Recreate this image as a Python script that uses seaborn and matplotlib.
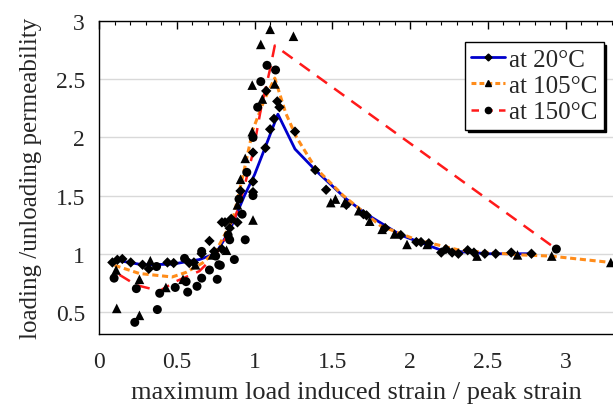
import matplotlib
matplotlib.use("Agg")
import matplotlib.pyplot as plt
from matplotlib.lines import Line2D
from matplotlib.ticker import MultipleLocator
import seaborn as sns
import pandas as pd

# fitted curves
x_20_line = [0.08, 0.13, 0.28, 0.47, 0.645, 0.75, 0.84, 0.935, 1.0, 1.07, 1.15,
             1.26, 1.39, 1.59, 1.72, 1.94, 2.2, 2.5, 2.77]
y_20_line = [0.93, 0.94, 0.905, 0.91, 0.95, 1.0, 1.2, 1.5, 1.68, 1.92, 2.2,
             1.9, 1.72, 1.47, 1.34, 1.16, 1.03, 1.0, 1.0]

x_105_line = [0.1, 0.26, 0.47, 0.56, 0.665, 0.75, 0.86, 0.935, 0.99, 1.065, 1.13,
              1.2, 1.27, 1.39, 1.57, 1.81, 2.04, 2.32, 2.71, 2.9, 3.29]
y_105_line = [0.9, 0.83, 0.8, 0.84, 0.92, 1.02, 1.29, 1.73, 2.07, 2.33, 2.51,
              2.21, 2.0, 1.74, 1.5, 1.24, 1.12, 1.03, 0.99, 0.98, 0.925]

x_150_line = [0.13, 0.24, 0.39, 0.49, 0.645, 0.75, 0.86, 0.935, 0.99, 1.04, 1.1,
              1.13, 2.94]
y_150_line = [0.82, 0.73, 0.68, 0.76, 0.85, 0.99, 1.24, 1.58, 1.87, 2.24, 2.59,
              2.79, 1.04]

# measured points
x_20_pts = [0.086, 0.118, 0.15, 0.204, 0.28, 0.32, 0.44, 0.48, 0.58, 0.61, 0.66,
            0.71, 0.74, 0.79, 0.79, 0.81, 0.84, 0.85, 0.89, 0.91, 0.99, 0.99,
            0.99, 1.07, 1.075, 1.10, 1.125, 1.146, 1.16, 1.26, 1.39, 1.46, 1.59,
            1.70, 1.72, 1.84, 1.94, 2.04, 2.07, 2.12, 2.20, 2.23, 2.27, 2.31,
            2.37, 2.41, 2.48, 2.55, 2.65, 2.78]
y_20_pts = [0.925, 0.948, 0.955, 0.925, 0.905, 0.87, 0.925, 0.92, 0.92, 0.925, 1.0,
            1.11, 1.02, 1.27, 1.04, 1.27, 1.22, 1.30, 1.27, 1.54, 1.62, 1.53,
            1.87, 1.91, 2.40, 2.07, 2.16, 2.31, 2.26, 2.05, 1.72, 1.55, 1.42,
            1.34, 1.33, 1.22, 1.16, 1.10, 1.10, 1.09, 1.01, 1.04, 1.01, 1.0,
            1.03, 1.01, 1.0, 1.0, 1.01, 1.0]

x_105_pts = [0.11, 0.114, 0.26, 0.26, 0.33, 0.43, 0.54, 0.62, 0.73, 0.82, 0.89,
             0.91, 0.94, 0.985, 0.985, 0.99, 1.04, 1.05, 1.10, 1.13, 1.25, 1.49,
             1.52, 1.58, 1.67, 1.74, 1.82, 1.90, 1.98, 2.11, 2.43, 2.69, 2.91,
             3.29]
y_105_pts = [0.86, 0.53, 0.78, 0.47, 0.94, 0.71, 0.78, 0.905, 0.99, 1.03, 1.42,
             1.64, 1.82, 2.45, 2.05, 1.29, 2.80, 2.33, 2.93, 2.46, 2.87, 1.44,
             1.47, 1.44, 1.37, 1.28, 1.21, 1.17, 1.08, 1.08, 0.98, 0.99, 0.98,
             0.925]

x_150_pts = [0.097, 0.23, 0.24, 0.37, 0.375, 0.39, 0.49, 0.55, 0.56, 0.57, 0.63,
             0.66, 0.66, 0.71, 0.75, 0.76, 0.77, 0.78, 0.83, 0.84, 0.87, 0.90,
             0.92, 0.94, 0.95, 0.99, 0.99, 1.02, 1.04, 1.08, 1.135, 2.94]
y_150_pts = [0.79, 0.41, 0.70, 0.89, 0.52, 0.66, 0.71, 0.96, 0.76, 0.67, 0.72,
             0.79, 1.02, 0.86, 0.98, 0.78, 0.905, 0.90, 1.16, 1.12, 0.95, 1.47,
             1.34, 1.12, 1.70, 1.50, 2.0, 2.26, 2.48, 2.62, 2.58, 1.04]

series_labels = ["at 20°C", "at 105°C", "at 150°C"]

blue = "#0000CC"
orange = "#FF8C1A"
red = "#FF1A1A"

sns.set_style("white")
plt.rcParams["font.family"] = ["Liberation Serif", "DejaVu Serif"]

fig = plt.figure(figsize=(6.13, 4.10), dpi=100)
ax = fig.add_axes([0.1615, 0.183, 0.84, 0.763])

ax.yaxis.grid(True, color="#d9d9d9", lw=1)
ax.set_axisbelow(True)

line_20 = pd.DataFrame({"x": x_20_line, "y": y_20_line})
line_105 = pd.DataFrame({"x": x_105_line, "y": y_105_line})
line_150 = pd.DataFrame({"x": x_150_line, "y": y_150_line})

sns.lineplot(data=line_20, x="x", y="y", ax=ax, color=blue, lw=2,
             sort=False, estimator=None, zorder=2)
sns.lineplot(data=line_105, x="x", y="y", ax=ax, color=orange, lw=2.2,
             dashes=(2, 1.2), sort=False, estimator=None, zorder=2)
sns.lineplot(data=line_150, x="x", y="y", ax=ax, color=red, lw=1.8,
             dashes=(5, 3.5), sort=False, estimator=None, zorder=2)

sns.scatterplot(x=x_20_pts, y=y_20_pts, ax=ax, marker="D", s=28,
                color="black", edgecolor="none", zorder=3)
sns.scatterplot(x=x_105_pts, y=y_105_pts, ax=ax, marker="^", s=48,
                color="black", edgecolor="none", zorder=3)
sns.scatterplot(x=x_150_pts, y=y_150_pts, ax=ax, marker="o", s=42,
                color="black", edgecolor="none", zorder=3)

ax.set_xlim(0, 3.31)
ax.set_ylim(0.31, 3.0)
ax.xaxis.set_minor_locator(MultipleLocator(0.1))
ax.yaxis.set_minor_locator(MultipleLocator(0.1))
ax.set_xticks([0, 0.5, 1, 1.5, 2, 2.5, 3])
ax.set_xticklabels(["0", "0.5", "1", "1.5", "2", "2.5", "3"])
ax.set_yticks([0.5, 1, 1.5, 2, 2.5, 3])
ax.set_yticklabels(["0.5", "1", "1.5", "2", "2.5", "3"])
ax.tick_params(axis="both", which="both", direction="in", top=True,
               right=False, labelsize=17, color="black")
ax.tick_params(axis="x", which="major", length=6, width=1, pad=12)
ax.tick_params(axis="y", which="major", length=6, width=1, pad=10)
ax.tick_params(axis="both", which="minor", length=3, width=0.8)

for side in ["left", "bottom", "top"]:
    ax.spines[side].set_color("black")
    ax.spines[side].set_linewidth(1)
ax.spines["right"].set_visible(False)

ax.set_xlabel("maximum load induced strain / peak strain", fontsize=19,
              labelpad=7)
ax.set_ylabel("loading /unloading permeability", fontsize=18, labelpad=10)

handles = [
    Line2D([], [], color=blue, lw=2, marker="D", markersize=3.5,
           markerfacecolor="black", markeredgecolor="black"),
    Line2D([], [], color=orange, lw=2.2, dashes=(1.6, 1), marker="^",
           markersize=5, markerfacecolor="black", markeredgecolor="black"),
    Line2D([], [], color=red, lw=1.8, dashes=(3, 2.5), marker="o",
           markersize=4.5, markerfacecolor="black", markeredgecolor="black"),
]
leg = ax.legend(handles, series_labels, loc="upper right",
                bbox_to_anchor=(0.98, 0.933), fontsize=18, frameon=True,
                fancybox=False, shadow={"color": "black", "alpha": 1},
                edgecolor="black", handlelength=1.35, handletextpad=0.15,
                borderpad=0.25, labelspacing=0.15, borderaxespad=0)
leg.get_frame().set_linewidth(1)

fig.savefig("out.png", dpi=100)
